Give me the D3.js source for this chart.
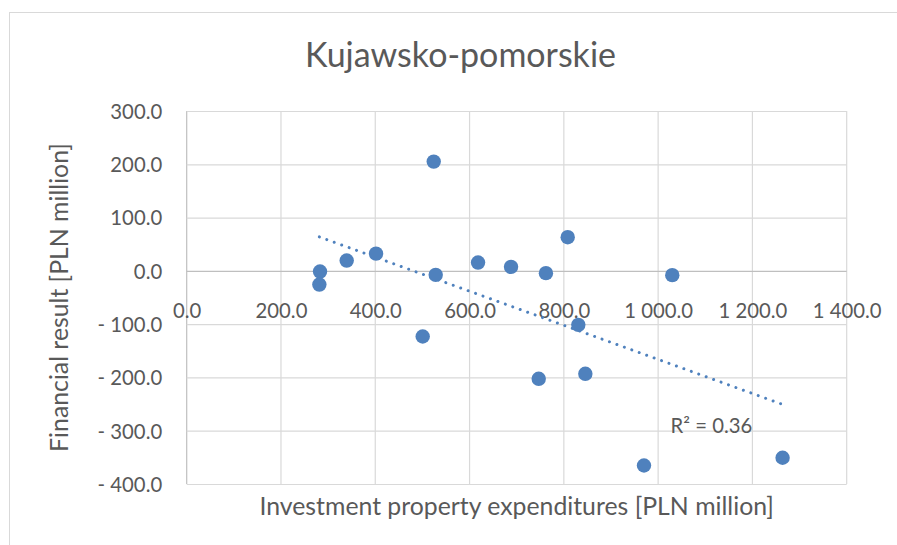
<!DOCTYPE html>
<html>
<head>
<meta charset="utf-8">
<script src="https://cdn.jsdelivr.net/npm/d3@7"></script>
<style>
  html, body { margin: 0; padding: 0; background: #ffffff; }
  svg { display: block; }
  text { font-family: Lato, "Open Sans", sans-serif; fill: #595959; }
</style>
</head>
<body>
<svg id="chart" width="897" height="545"></svg>
<script>
// ---- data ----
const chartTitle = "Kujawsko-pomorskie";
const xTitle = "Investment property expenditures [PLN million]";
const yTitle = "Financial result [PLN million]";
const trendLabel = "R\u00B2 = 0.36";

const expenditures = [282.8, 281.4, 339.4, 401.6, 524.0, 528.2, 500.6, 618.0, 688.0,
                      762.0, 746.7, 808.2, 830.7, 845.6, 970.0, 1030.0, 1264.0];
const financialResult = [-1.3, -25.7, 19.3, 32.4, 205.0, -7.5, -123.2, 15.6, 7.5,
                         -4.3, -202.6, 63.2, -101.3, -193.2, -365.3, -8.1, -350.8];

const xTicks = [0, 200, 400, 600, 800, 1000, 1200, 1400];
const yTicks = [-400, -300, -200, -100, 0, 100, 200, 300];

// ---- layout ----
const svg = d3.select("#chart");
const plot = { left: 186.7, right: 846.7, top: 111, bottom: 484 };
const blue = "#4F81BD";
const tickFont = "20.3px";
const axisTitleFont = "24.8px";

const x = d3.scaleLinear().domain([0, 1400]).range([plot.left, plot.right]);
const y = d3.scaleLinear().domain([-400, 300]).range([plot.bottom, plot.top]);

const fmt = d => {
  const s = d3.format(",.1f")(Math.abs(d)).replace(/,/g, " ");
  return d < 0 ? "- " + s : s;
};

// chart area border
svg.append("rect")
  .attr("x", 9.5).attr("y", 12.5)
  .attr("width", 1000).attr("height", 1000)
  .attr("fill", "none").attr("stroke", "#d9d9d9").attr("stroke-width", 1);

// title
svg.append("text")
  .attr("x", 460.5).attr("y", 67)
  .attr("text-anchor", "middle")
  .style("font-size", "34px")
  .text(chartTitle);

// vertical gridlines
svg.append("g").selectAll("line")
  .data(xTicks)
  .join("line")
  .attr("x1", d => x(d)).attr("x2", d => x(d))
  .attr("y1", plot.top).attr("y2", plot.bottom)
  .attr("stroke", d => d === 0 ? "#bfbfbf" : "#d9d9d9")
  .attr("stroke-width", 1.2);

// horizontal gridlines + y labels
const yAxis = svg.append("g")
  .attr("transform", `translate(${plot.left},0)`)
  .call(d3.axisLeft(y).tickValues(yTicks).tickSize(-(plot.right - plot.left)).tickPadding(24.5).tickFormat(fmt));
yAxis.select(".domain").remove();
yAxis.selectAll(".tick line")
  .attr("stroke", d => d === 0 ? "#bfbfbf" : "#d9d9d9")
  .attr("stroke-width", 1.2);
yAxis.selectAll(".tick text")
  .attr("fill", "#595959")
  .attr("dy", "0.36em")
  .style("font-size", tickFont)
  .style("font-family", "Lato, 'Open Sans', sans-serif");

// x axis labels (axis crosses at y = 0)
const xAxis = svg.append("g")
  .attr("transform", `translate(0,${y(0)})`)
  .call(d3.axisBottom(x).tickValues(xTicks).tickSize(0).tickFormat(fmt));
xAxis.select(".domain").remove();
xAxis.selectAll(".tick text")
  .attr("y", 47).attr("dy", 0)
  .attr("fill", "#595959")
  .style("font-size", tickFont)
  .style("font-family", "Lato, 'Open Sans', sans-serif");

// axis titles
svg.append("text")
  .attr("x", (plot.left + plot.right) / 2).attr("y", 515)
  .attr("text-anchor", "middle")
  .style("font-size", axisTitleFont)
  .text(xTitle);

svg.append("text")
  .attr("transform", `translate(68,${(plot.top + plot.bottom) / 2}) rotate(-90)`)
  .attr("text-anchor", "middle")
  .style("font-size", axisTitleFont)
  .text(yTitle);

// linear trendline (least squares from the data)
const n = expenditures.length;
const mx = d3.mean(expenditures), my = d3.mean(financialResult);
let sxy = 0, sxx = 0;
for (let i = 0; i < n; i++) {
  sxy += (expenditures[i] - mx) * (financialResult[i] - my);
  sxx += (expenditures[i] - mx) ** 2;
}
const slope = sxy / sxx, intercept = my - slope * mx;
const [xmin, xmax] = d3.extent(expenditures);
svg.append("line")
  .attr("x1", x(xmin)).attr("y1", y(intercept + slope * xmin))
  .attr("x2", x(xmax)).attr("y2", y(intercept + slope * xmax))
  .attr("stroke", blue).attr("stroke-width", 3)
  .attr("stroke-linecap", "round")
  .attr("stroke-dasharray", "0.01 7.9");

// points
svg.append("g").selectAll("circle")
  .data(d3.zip(expenditures, financialResult))
  .join("circle")
  .attr("cx", d => x(d[0])).attr("cy", d => y(d[1]))
  .attr("r", 7.2)
  .attr("fill", blue);

// R² label
svg.append("text")
  .attr("x", 670.5).attr("y", 433)
  .style("font-size", tickFont)
  .text(trendLabel);
</script>
</body>
</html>
